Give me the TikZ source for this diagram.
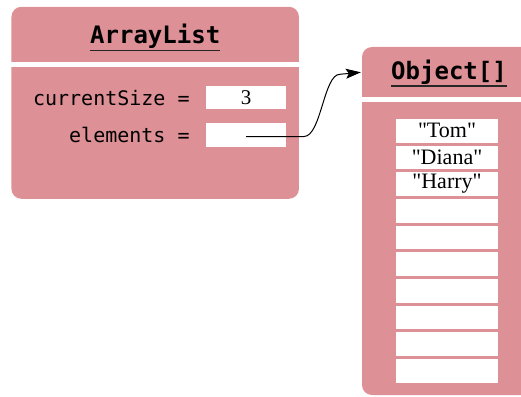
\documentclass[tikz,border=0pt]{standalone}
\usepackage{fontspec}
\setmainfont{Liberation Serif}
\setmonofont{DejaVu Sans Mono}
\usepackage{xcolor}
\usetikzlibrary{arrows.meta, positioning, calc}
\definecolor{objpink}{RGB}{221,144,149}

\tikzset{
  objbox/.style={fill=objpink, draw=none, rounded corners=10pt, inner sep=0pt},
  boxtitle/.style={font=\ttfamily\bfseries\fontsize{24}{24}\selectfont, inner sep=0pt},
  titlerule/.style={line width=1.6pt, black!85},
  fieldlabel/.style={anchor=east, inner sep=0pt, font=\ttfamily\fontsize{20}{20}\selectfont},
  valcell/.style={fill=white, inner sep=0pt, minimum width=80pt, minimum height=23.5pt,
    font=\fontsize{21}{21}\selectfont},
  arraycell/.style={fill=white, inner sep=0pt, minimum width=102pt, minimum height=23.6pt,
    font=\fontsize{22}{22}\selectfont},
  refarrow/.style={-{Stealth[length=15pt, width=10pt, inset=3pt]}, line width=1pt}
}

\begin{document}
\begin{tikzpicture}[x=1pt, y=-1pt]
    \useasboundingbox (0,0) rectangle (521,396);

    % ArrayList object
    \node[objbox, minimum width=287.5pt, minimum height=192pt] (listbox) at (155.2,102.8) {};
    \fill[white] ($(listbox.north west)+(0,55.5)$) rectangle ($(listbox.north east)+(0,60)$); % divider
    \node[boxtitle] (listtitle) at ($(listbox.north)+(0,30)$) {ArrayList};
    \draw[titlerule] ($(listtitle.south west)+(0,1.5)$) -- ($(listtitle.south east)+(0,1.5)$);

    \node[valcell] (sizeval) at (246,97.7) {3};
    \node[valcell] (elemval) at (246,135) {};
    \node[fieldlabel] (sizelabel) at ($(sizeval.west)+(-16,0)$) {currentSize =};
    \node[fieldlabel] (elemlabel) at ($(elemval.west)+(-16,0)$) {elements =};

    % Object[] array (runs off the right edge)
    \begin{scope}
        \clip (0,0) rectangle (521,396);
        \node[objbox, minimum width=170pt, minimum height=348pt] (arraybox) at (447,221) {};
        \fill[white] ($(arraybox.north west)+(0,50.5)$) rectangle ($(arraybox.north east)+(0,55)$); % divider
    \end{scope}
    \node[boxtitle] (arraytitle) at ($(arraybox.north)+(2,25.5)$) {Object[]};
    \draw[titlerule] ($(arraytitle.south west)+(0,1.5)$) -- ($(arraytitle.south east)+(0,1.5)$);

    % array slots
    \foreach \name [count=\i] in {Tom,Diana,Harry}
        \node[arraycell] (cell\i) at (447,{130.8+(\i-1)*26.67}) {\textquotedbl\name\textquotedbl};
    \foreach \i in {4,...,10}
        \node[arraycell] (cell\i) at (447,{130.8+(\i-1)*26.67}) {};

    % reference from elements to the array
    \draw[refarrow] ($(elemval.center)+(0,1.5)$) -- ++(58,0)
        .. controls +(17,0) and +(-16,0) .. ($(arraybox.west |- arraytitle)+(-22,2)$)
        -- ($(arraybox.west |- arraytitle)+(-1,0)$);
\end{tikzpicture}
\end{document}
